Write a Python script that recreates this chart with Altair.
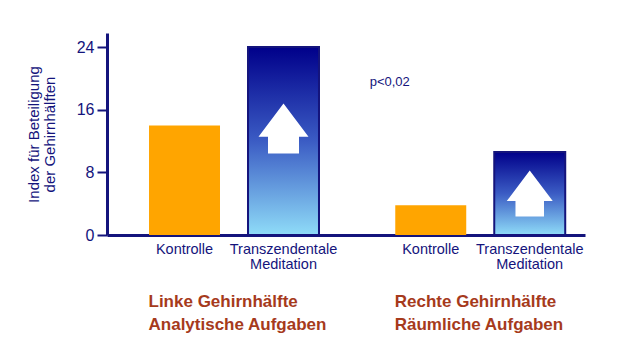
import altair as alt
import pandas as pd

# ---- data ----
groups = ["Linke Gehirnhälfte", "Rechte Gehirnhälfte"]
conditions = ["Kontrolle", "Transzendentale Meditation"]
bar_groups = ["Linke Gehirnhälfte", "Linke Gehirnhälfte", "Rechte Gehirnhälfte", "Rechte Gehirnhälfte"]
bar_conditions = ["Kontrolle", "Transzendentale Meditation", "Kontrolle", "Transzendentale Meditation"]
index_values = [14.0, 24.0, 3.8, 10.6]
group_captions = ["Linke Gehirnhälfte|Analytische Aufgaben", "Rechte Gehirnhälfte|Räumliche Aufgaben"]
arrow_centers = [13.6, 5.3]
p_text = "p<0,02"
p_level = 19.5
y_ticks = [0, 8, 16, 24]

NAVY = "#14147c"
ORANGE = "#ffa500"
RUST = "#a63a1c"

bars = pd.DataFrame({"group": bar_groups, "cond": bar_conditions, "value": index_values})
arrows = pd.DataFrame({"group": groups, "cond": [conditions[1]] * 2, "value": arrow_centers})
arrows["size"] = arrows["group"].map({groups[0]: 2500, groups[1]: 2116})
captions = pd.DataFrame({"group": groups, "cond": [conditions[0]] * 2, "label": group_captions})
ptab = pd.DataFrame({"group": [groups[1]], "cond": [conditions[0]], "value": [p_level], "label": [p_text]})

x_enc = alt.X("group:N", sort=groups,
              scale=alt.Scale(domain=groups, paddingInner=0.2, paddingOuter=0.0706, align=0.82),
              axis=alt.Axis(title=None, labels=False, ticks=False, domainColor=NAVY, domainWidth=3))
xo_enc = alt.XOffset("cond:N", sort=conditions,
                     scale=alt.Scale(domain=conditions, paddingInner=0.283, paddingOuter=0.1365))
y_scale = alt.Scale(domain=[0, 25.8], nice=False)
y_enc = alt.Y("value:Q", scale=y_scale,
              axis=alt.Axis(title=["Index für Beteiligung", "der Gehirnhälften"],
                            values=y_ticks, grid=False, domainColor=NAVY, domainWidth=3,
                            tickColor=NAVY, tickWidth=2, tickSize=10, labelPadding=3,
                            labelColor=NAVY, labelFontSize=16, labelFont="Liberation Sans",
                            titleColor=NAVY, titleFontSize=15, titleFontWeight="normal",
                            titleFont="Liberation Sans", titlePadding=19, titleLineHeight=16))

gradient = alt.LinearGradient(
    gradient="linear",
    stops=[alt.GradientStop(color="#00008a", offset=0),
           alt.GradientStop(color="#3b5cc4", offset=0.5),
           alt.GradientStop(color="#8fdcf8", offset=1)],
    x1=0, x2=0, y1=0, y2=1)

orange_bars = alt.Chart(bars).transform_filter(alt.datum.cond == conditions[0]).mark_bar(
    color=ORANGE).encode(x=x_enc, xOffset=xo_enc, y=y_enc)
blue_bars = alt.Chart(bars).transform_filter(alt.datum.cond == conditions[1]).mark_bar(
    fill=gradient, stroke=NAVY, strokeWidth=2).encode(x=x_enc, xOffset=xo_enc, y=y_enc)

arrow_path = "M0,-1L1,0.33L0.62,0.33L0.62,1L-0.62,1L-0.62,0.33L-1,0.33Z"
arrow_marks = alt.Chart(arrows).mark_point(shape=arrow_path, filled=True, fill="white",
                                           opacity=1, strokeWidth=0).encode(
    x=x_enc, xOffset=xo_enc, y=alt.Y("value:Q", scale=y_scale),
    size=alt.Size("size:Q", scale=None, legend=None))

cat_labels = alt.Chart(bars).mark_text(
    font="Liberation Sans", fontSize=14.5, color=NAVY, lineBreak=" ", lineHeight=14.5,
    baseline="alphabetic", align="center", dy=19).encode(
    x=x_enc, xOffset=xo_enc, y=alt.datum(0), text="cond:N")

cap_labels = alt.Chart(captions).mark_text(
    font="Liberation Sans", fontSize=17, fontWeight="bold", color=RUST, lineBreak="|",
    lineHeight=23, baseline="alphabetic", align="left", dx=-36, dy=72).encode(
    x=x_enc, xOffset=xo_enc, y=alt.datum(0), text="label:N")

p_label = alt.Chart(ptab).mark_text(
    font="Liberation Sans", fontSize=13, color=NAVY, align="center", baseline="middle",
    dx=-41).encode(x=x_enc, xOffset=xo_enc, y=alt.Y("value:Q", scale=y_scale), text="label:N")

chart = alt.layer(orange_bars, blue_bars, arrow_marks, cat_labels, cap_labels, p_label).properties(
    width=478, height=202, autosize="none",
    padding={"left": 107, "top": 33, "right": 39, "bottom": 120},
    background="white",
).configure_view(stroke=None)

chart.save("out.html", embed_options={"renderer": "svg", "actions": False})
